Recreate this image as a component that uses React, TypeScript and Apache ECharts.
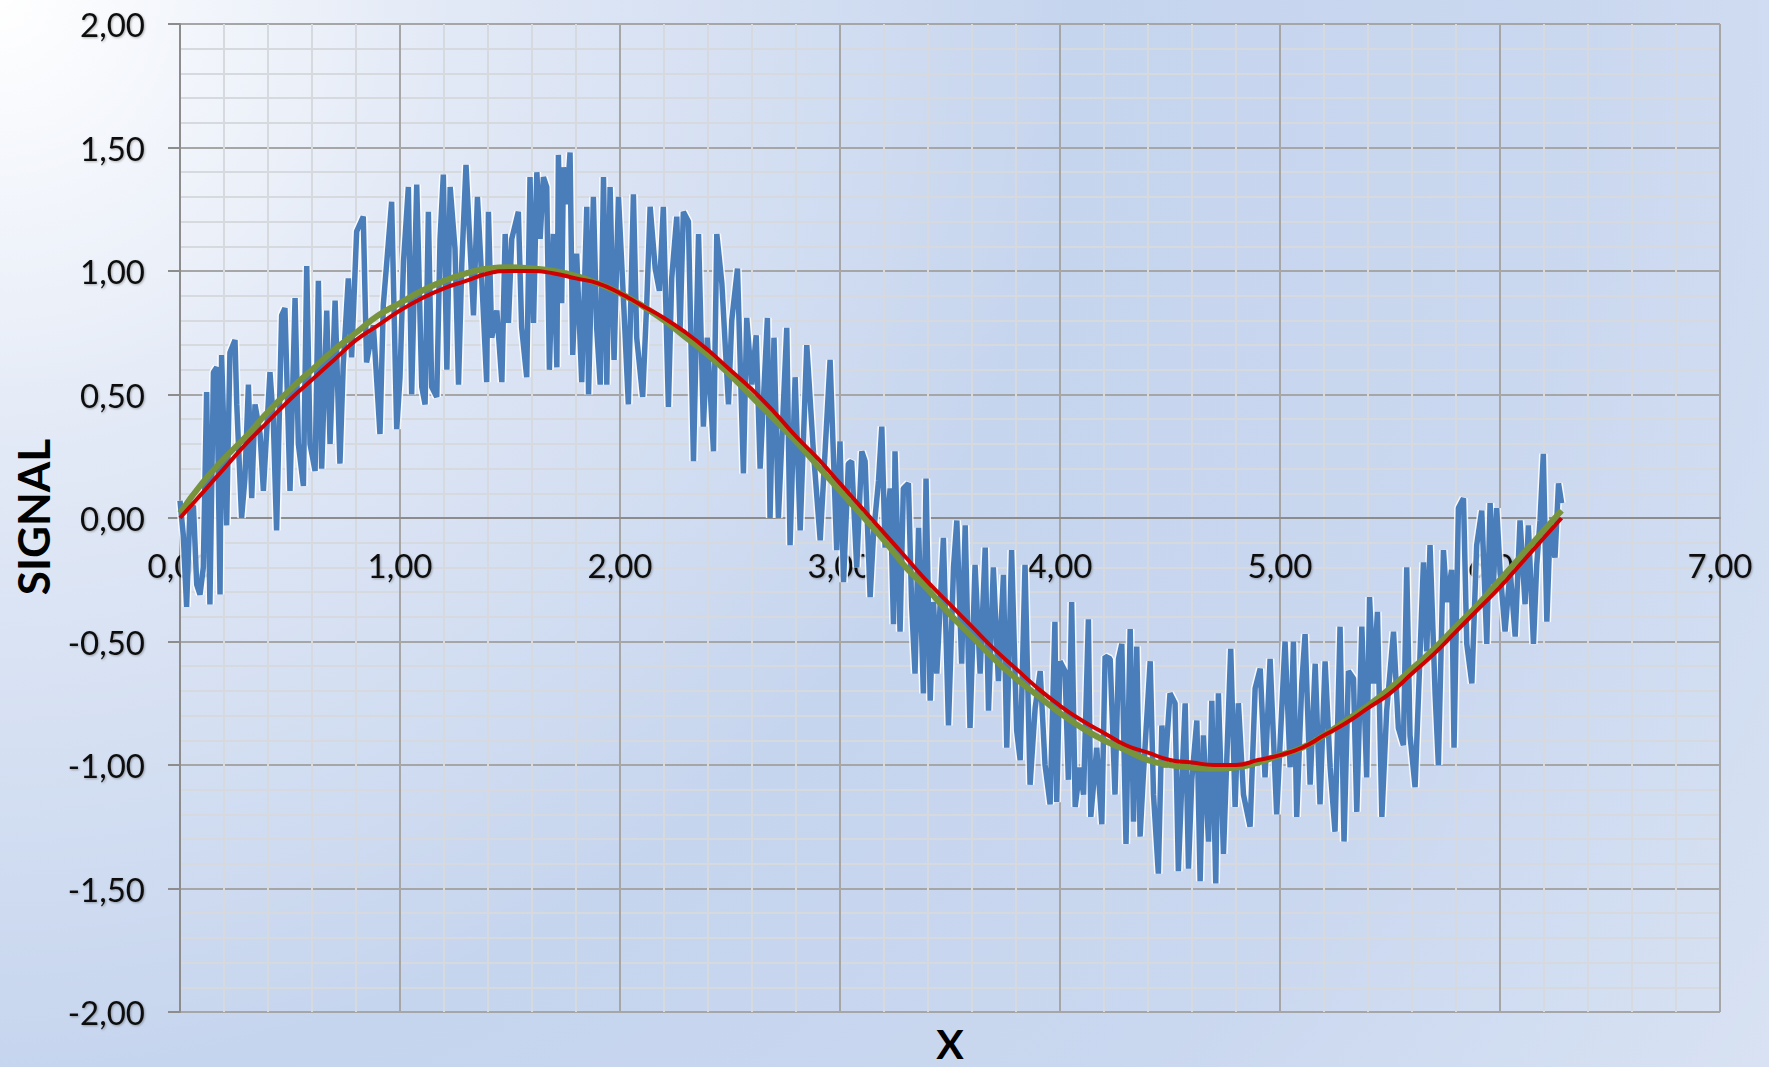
import React, { useEffect, useRef } from "react";
import * as echarts from "echarts";

// Smooth curves, sampled every 0.1 on X
const curveX = [
  0, 0.1, 0.2, 0.3, 0.4, 0.5, 0.6, 0.7, 0.8, 0.9,
  1.0, 1.1, 1.2, 1.3, 1.4, 1.5, 1.6, 1.7, 1.8, 1.9,
  2.0, 2.1, 2.2, 2.3, 2.4, 2.5, 2.6, 2.7, 2.8, 2.9,
  3.0, 3.1, 3.2, 3.3, 3.4, 3.5, 3.6, 3.7, 3.8, 3.9,
  4.0, 4.1, 4.2, 4.3, 4.4, 4.5, 4.6, 4.7, 4.8, 4.9,
  5.0, 5.1, 5.2, 5.3, 5.4, 5.5, 5.6, 5.7, 5.8, 5.9,
  6.0, 6.1, 6.2, 6.28,
];

// Red curve (pure signal)
const sineY = [
  0.0, 0.1, 0.2, 0.3, 0.39, 0.48, 0.56, 0.64, 0.72, 0.78,
  0.84, 0.89, 0.93, 0.96, 0.99, 1.0, 1.0, 0.99, 0.97, 0.95,
  0.91, 0.86, 0.81, 0.75, 0.68, 0.6, 0.52, 0.43, 0.33, 0.24,
  0.14, 0.04, -0.06, -0.16, -0.26, -0.35, -0.44, -0.53, -0.61, -0.69,
  -0.76, -0.82, -0.87, -0.92, -0.95, -0.98, -0.99, -1.0, -1.0, -0.98,
  -0.96, -0.93, -0.88, -0.83, -0.77, -0.71, -0.63, -0.55, -0.46, -0.37,
  -0.28, -0.18, -0.08, 0.0,
];

// Green curve (fitted signal)
const fitY = [
  0.02, 0.14, 0.24, 0.33, 0.43, 0.52, 0.6, 0.68, 0.75, 0.82,
  0.87, 0.92, 0.96, 0.99, 1.01, 1.015, 1.01, 1.0, 0.98, 0.95,
  0.91, 0.86, 0.8, 0.73, 0.66, 0.58, 0.49, 0.4, 0.31, 0.21,
  0.11, 0.01, -0.09, -0.2, -0.29, -0.39, -0.48, -0.57, -0.65, -0.72,
  -0.79, -0.85, -0.9, -0.94, -0.98, -1.0, -1.01, -1.015, -1.01, -0.99,
  -0.96, -0.93, -0.88, -0.82, -0.76, -0.69, -0.61, -0.53, -0.44, -0.35,
  -0.25, -0.15, -0.05, 0.03,
];

// Blue noisy signal
const noiseX = [
  0.0, 0.015, 0.03, 0.045, 0.061, 0.076, 0.091, 0.106, 0.121, 0.136,
  0.152, 0.167, 0.182, 0.189, 0.212, 0.227, 0.25, 0.258, 0.28, 0.295,
  0.311, 0.326, 0.341, 0.364, 0.379, 0.409, 0.424, 0.439, 0.462, 0.477,
  0.5, 0.523, 0.538, 0.561, 0.576, 0.591, 0.614, 0.629, 0.644, 0.667,
  0.682, 0.705, 0.727, 0.742, 0.765, 0.78, 0.803, 0.833, 0.848, 0.879,
  0.909, 0.924, 0.962, 0.985,
  1.0, 1.016, 1.038, 1.053, 1.076, 1.099, 1.114, 1.129, 1.144, 1.167,
  1.182, 1.197, 1.213, 1.228, 1.25, 1.266, 1.281, 1.3, 1.319, 1.334,
  1.352, 1.372, 1.394, 1.402, 1.417, 1.44, 1.463, 1.478, 1.493, 1.508,
  1.538, 1.553, 1.576, 1.591, 1.607, 1.622, 1.637, 1.652, 1.667, 1.679,
  1.697, 1.713, 1.72, 1.735, 1.743, 1.758, 1.773, 1.785, 1.803, 1.826,
  1.849, 1.857, 1.879, 1.894, 1.91, 1.925, 1.94, 1.955, 1.973, 1.993,
  2.016, 2.038, 2.061, 2.076, 2.103, 2.122, 2.137, 2.16, 2.179, 2.197,
  2.22, 2.235, 2.258, 2.273, 2.288, 2.311, 2.334, 2.357, 2.379, 2.397,
  2.425, 2.44, 2.463, 2.493, 2.508, 2.534, 2.561, 2.576, 2.599, 2.619,
  2.637, 2.67, 2.682, 2.7, 2.72, 2.758, 2.773, 2.796, 2.819, 2.849,
  2.879, 2.91, 2.955, 2.985,
  3.0, 3.016, 3.038, 3.053, 3.076, 3.099, 3.114, 3.137, 3.152, 3.175,
  3.19, 3.205, 3.228, 3.243, 3.25, 3.273, 3.288, 3.311, 3.326, 3.341,
  3.357, 3.379, 3.391, 3.41, 3.425, 3.44, 3.47, 3.493, 3.516, 3.531,
  3.553, 3.569, 3.591, 3.614, 3.637, 3.66, 3.675, 3.697, 3.72, 3.743,
  3.758, 3.78, 3.803, 3.819, 3.841, 3.864, 3.887, 3.91, 3.932, 3.955,
  3.977,
  3.985, 4.0, 4.023, 4.038, 4.053, 4.069, 4.091, 4.107, 4.129, 4.14,
  4.167, 4.19, 4.205, 4.228, 4.25, 4.266, 4.281, 4.3, 4.319, 4.334,
  4.349, 4.364, 4.379, 4.41, 4.425, 4.447, 4.463, 4.478, 4.5, 4.523,
  4.538, 4.553, 4.569, 4.584, 4.599, 4.622, 4.637, 4.652, 4.675, 4.69,
  4.708, 4.72, 4.743, 4.758, 4.776, 4.796, 4.811, 4.834, 4.864, 4.887,
  4.91, 4.932, 4.955, 4.985,
  5.0, 5.023, 5.046, 5.061, 5.076, 5.099, 5.114, 5.137, 5.16, 5.182,
  5.205, 5.228, 5.25, 5.273, 5.291, 5.311, 5.334, 5.349, 5.372, 5.394,
  5.407, 5.425, 5.443, 5.463, 5.485, 5.516, 5.538, 5.561, 5.576, 5.591,
  5.614, 5.637, 5.652, 5.667, 5.682, 5.705, 5.72, 5.743, 5.758, 5.78,
  5.791, 5.811, 5.834, 5.849, 5.872, 5.894, 5.917, 5.94, 5.955, 5.97,
  5.985,
  6.0, 6.023, 6.046, 6.069, 6.091, 6.114, 6.129, 6.152, 6.167, 6.182,
  6.197, 6.213, 6.228, 6.25, 6.266, 6.28,
];

const noiseY = [
  0.07, -0.07, -0.36, 0.03, 0.05, -0.27, -0.31, -0.2, 0.51, -0.35,
  0.59, 0.61, -0.31, 0.66, -0.03, 0.67, 0.72, 0.46, 0.0, 0.16,
  0.54, 0.08, 0.46, 0.34, 0.11, 0.59, 0.4, -0.05, 0.82, 0.85,
  0.11, 0.89, 0.3, 0.13, 1.02, 0.3, 0.19, 0.96, 0.2, 0.84,
  0.3, 0.88, 0.22, 0.62, 0.97, 0.65, 1.16, 1.22, 0.63, 0.78,
  0.34, 0.86, 1.28, 0.36,
  0.57, 1.04, 1.34, 0.5, 1.35, 0.53, 0.46, 1.24, 0.53, 0.49,
  1.13, 1.39, 0.6, 1.34, 1.09, 0.54, 1.03, 1.43, 1.09, 0.82,
  1.3, 0.96, 0.55, 1.24, 0.73, 0.84, 0.55, 1.15, 0.79, 1.13,
  1.24, 0.77, 0.57, 1.38, 0.79, 1.4, 1.13, 1.38, 1.34, 0.6,
  1.15, 0.61, 1.47, 0.87, 1.42, 1.27, 1.48, 0.66, 1.07, 0.55,
  1.26, 0.5, 1.3, 0.77, 0.54, 1.38, 0.54, 1.34, 0.64, 1.3,
  0.88, 0.46, 1.31, 0.73, 0.49, 0.88, 1.26, 1.01, 0.92, 1.26,
  0.45, 0.97, 1.22, 0.76, 1.24, 1.2, 0.23, 1.15, 0.37, 0.73,
  0.27, 1.15, 0.95, 0.46, 0.8, 1.01, 0.18, 0.81, 0.54, 0.74,
  0.2, 0.81, 0.0, 0.73, 0.0, 0.77, -0.11, 0.57, -0.05, 0.7,
  0.27, -0.09, 0.64, -0.13,
  0.31, -0.26, 0.22, 0.23, -0.2, 0.27, 0.23, -0.32, -0.07, 0.15,
  0.37, -0.12, 0.12, -0.43, 0.27, -0.46, 0.12, 0.14, -0.36, -0.63,
  -0.04, -0.71, 0.16, -0.74, -0.34, -0.63, -0.08, -0.84, -0.2, -0.01,
  -0.59, -0.03, -0.85, -0.19, -0.63, -0.12, -0.78, -0.2, -0.66, -0.23,
  -0.93, -0.13, -0.86, -0.98, -0.19, -1.08, -0.77, -0.62, -1.0, -1.16,
  -0.42,
  -1.15, -0.58, -0.62, -1.06, -0.34, -1.17, -1.01, -1.12, -0.41, -1.21,
  -0.93, -1.24, -0.56, -0.57, -1.12, -0.57, -0.51, -1.32, -0.45, -1.23,
  -0.52, -1.29, -1.04, -0.58, -1.12, -1.44, -0.84, -1.01, -0.71, -0.75,
  -1.43, -1.09, -0.75, -1.42, -1.06, -0.82, -1.47, -0.88, -1.31, -0.74,
  -1.48, -0.71, -1.36, -0.98, -0.53, -1.17, -0.75, -1.12, -1.25, -0.69,
  -0.61, -1.05, -0.57, -1.2,
  -0.92, -0.5, -1.01, -0.5, -1.21, -0.67, -0.47, -1.08, -0.59, -1.16,
  -0.58, -1.01, -1.27, -0.44, -1.31, -0.62, -0.65, -1.19, -0.44, -1.05,
  -0.32, -0.67, -0.38, -1.21, -0.78, -0.46, -0.85, -0.92, -0.2, -0.88,
  -1.09, -0.54, -0.18, -0.54, -0.11, -0.71, -1.0, -0.13, -0.34, -0.21,
  -0.93, 0.04, 0.08, -0.51, -0.67, -0.11, 0.03, -0.51, 0.06, -0.27,
  0.04,
  -0.21, -0.46, -0.21, -0.48, -0.01, -0.35, -0.03, -0.51, -0.19, -0.01,
  0.26, -0.42, -0.03, -0.16, 0.14, 0.06,
];

const X_MIN = 0;
const X_MAX = 7;
const X_STEP = 1;
const Y_MIN = -2;
const Y_MAX = 2;
const Y_STEP = 0.5;

const FONT = "Lato, 'Open Sans', sans-serif";

const GRID_TOP = 24;
const GRID_BOTTOM = 55;
const CHART_H = 1067;

const fmt = (v: number) => v.toFixed(2).replace(".", ",");

export default function App() {
  const ref = useRef<HTMLDivElement>(null);

  useEffect(() => {
    document.body.style.margin = "0";
    if (!ref.current) return;
    const chart = echarts.init(ref.current, undefined, { renderer: "svg" });

    const labelStyle = {
      fontFamily: FONT,
      fontSize: 33,
      color: "#111",
      textShadowColor: "rgba(0,0,0,0.3)",
      textShadowBlur: 2,
      textShadowOffsetX: 1,
      textShadowOffsetY: 1,
      formatter: (v: number) => fmt(v),
    };

    // the X axis is drawn where Y = 0 (middle of the plot, as Y runs -2..2)
    const plotH = CHART_H - GRID_TOP - GRID_BOTTOM;
    const zeroOffset = -plotH * ((0 - Y_MIN) / (Y_MAX - Y_MIN));

    const noiseData = noiseX.map((x, i) => [x, noiseY[i]]);

    chart.setOption({
      animation: false,
      backgroundColor: "transparent",
      grid: {
        left: 180,
        right: 49,
        top: GRID_TOP,
        bottom: GRID_BOTTOM,
        containLabel: false,
        outerBoundsMode: "none",
      },
      xAxis: {
        type: "value",
        position: "bottom",
        offset: zeroOffset,
        min: X_MIN,
        max: X_MAX,
        interval: X_STEP,
        axisLine: { onZero: false, lineStyle: { color: "#8c8c8c", width: 2 } },
        axisTick: { show: false },
        axisLabel: { ...labelStyle, margin: 30 },
        splitLine: { show: true, lineStyle: { color: "#a6a6a6", width: 2 } },
        minorTick: { show: false, splitNumber: 5 },
        minorSplitLine: { show: true, lineStyle: { color: "#d6d9de", width: 2 } },
      },
      yAxis: {
        type: "value",
        min: Y_MIN,
        max: Y_MAX,
        interval: Y_STEP,
        axisLine: { show: true, onZero: false, lineStyle: { color: "#8c8c8c", width: 2 } },
        axisTick: { show: true, length: 12, lineStyle: { color: "#8c8c8c", width: 2 } },
        axisLabel: { ...labelStyle, margin: 35 },
        splitLine: { show: true, lineStyle: { color: "#a6a6a6", width: 2 } },
        minorTick: { show: false, splitNumber: 5 },
        minorSplitLine: { show: true, lineStyle: { color: "#d6d9de", width: 2 } },
      },
      graphic: [
        {
          type: "text",
          x: 950,
          y: 1043,
          style: {
            text: "X",
            font: `bold 41px ${FONT}`,
            fill: "#000",
            align: "center",
            verticalAlign: "middle",
          },
        },
        {
          type: "text",
          x: 33,
          y: 517,
          rotation: Math.PI / 2,
          style: {
            text: "SIGNAL",
            font: `bold 44px ${FONT}`,
            fill: "#000",
            align: "center",
            verticalAlign: "middle",
          },
        },
      ],
      series: [
        {
          name: "Noisy signal halo",
          type: "line",
          data: noiseData,
          showSymbol: false,
          silent: true,
          lineStyle: { color: "rgba(255,255,255,0.85)", width: 8.5 },
          z: 2,
        },
        {
          name: "Noisy signal",
          type: "line",
          data: noiseData,
          showSymbol: false,
          lineStyle: { color: "#4a7ebb", width: 5.5 },
          z: 3,
        },
        {
          name: "Fit",
          type: "line",
          data: curveX.map((x, i) => [x, fitY[i]]),
          smooth: true,
          showSymbol: false,
          lineStyle: { color: "#77933c", width: 6 },
          z: 4,
        },
        {
          name: "Signal",
          type: "line",
          data: curveX.map((x, i) => [x, sineY[i]]),
          smooth: true,
          showSymbol: false,
          lineStyle: { color: "#d00000", width: 4 },
          z: 5,
        },
      ],
    });

    return () => chart.dispose();
  }, []);

  return (
    <div
      ref={ref}
      style={{
        width: 1769,
        height: 1067,
        background:
          "radial-gradient(circle farthest-corner at 0% 0%, #ffffff 0%, #e2e9f6 22%, #c6d5ee 52%, #c9d7ef 75%, #d8e2f3 100%)",
      }}
    />
  );
}
